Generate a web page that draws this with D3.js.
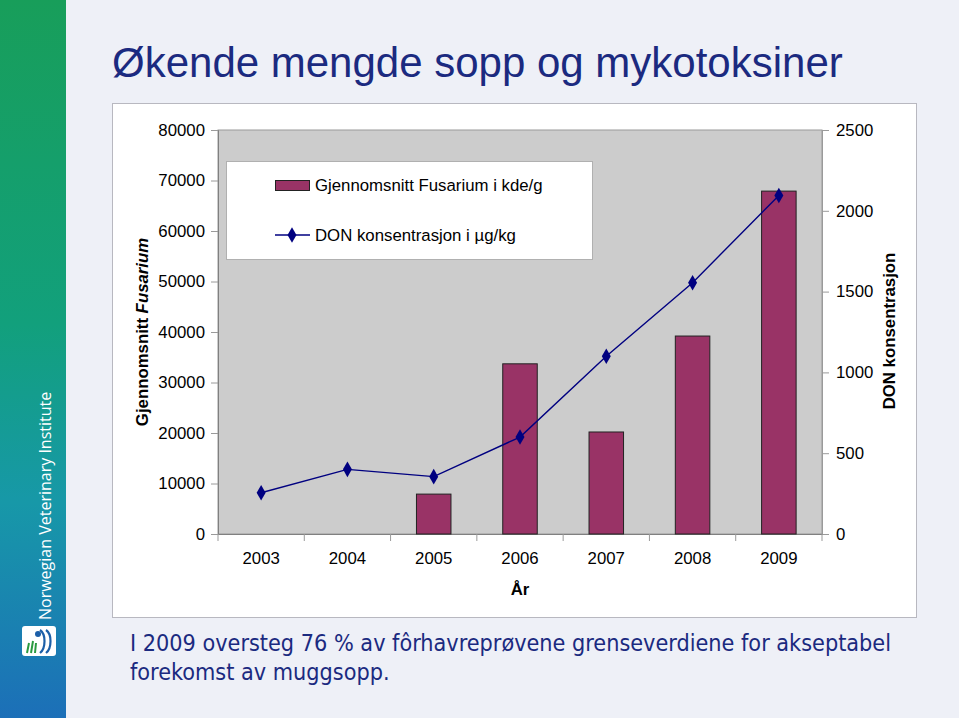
<!DOCTYPE html>
<html>
<head>
<meta charset="utf-8">
<script src="https://cdn.jsdelivr.net/npm/d3@7"></script>
<style>
  body { margin: 0; background: #eef0f7; }
  svg { display: block; }
</style>
</head>
<body>
<svg id="chart" width="959" height="718"></svg>
<script>
// Data
const years = ["2003", "2004", "2005", "2006", "2007", "2008", "2009"];
const fusarium = [0, 0, 7900, 33700, 20200, 39200, 67900];   // kde/g
const don = [255, 400, 355, 600, 1100, 1555, 2095];          // µg/kg
const leftTicks = [0, 10000, 20000, 30000, 40000, 50000, 60000, 70000, 80000];
const rightTicks = [0, 500, 1000, 1500, 2000, 2500];

const svg = d3.select("#chart");
const W = 959, H = 718;

// page background + sidebar
svg.append("rect").attr("width", W).attr("height", H).attr("fill", "#eef0f7");
const defs = svg.append("defs");
const grad = defs.append("linearGradient").attr("id", "side").attr("x1", 0).attr("y1", 0).attr("x2", 0).attr("y2", 1);
grad.append("stop").attr("offset", "0%").attr("stop-color", "#189e5a");
grad.append("stop").attr("offset", "45%").attr("stop-color", "#12a07c");
grad.append("stop").attr("offset", "70%").attr("stop-color", "#1798a8");
grad.append("stop").attr("offset", "100%").attr("stop-color", "#1c6fb8");
svg.append("rect").attr("x", 0).attr("y", 0).attr("width", 66).attr("height", H).attr("fill", "url(#side)");

svg.append("text")
  .attr("transform", "translate(51,620) rotate(-90)")
  .attr("fill", "#ffffff")
  .attr("font-family", "'Open Sans', sans-serif")
  .attr("font-size", 16)
  .text("Norwegian Veterinary Institute");

// logo
const logo = svg.append("g").attr("transform", "translate(22,626)");
logo.append("rect").attr("width", 34).attr("height", 30).attr("rx", 3).attr("fill", "#ffffff");
logo.append("path").attr("d", "M18,4 C24,8 24,22 18,27 M24,4 C30,8 30,22 24,27").attr("stroke", "#1c5fa8").attr("stroke-width", 2.2).attr("fill", "none");
logo.append("circle").attr("cx", 16).attr("cy", 8).attr("r", 3).attr("fill", "#1c5fa8");
logo.append("path").attr("d", "M5,27 L7,17 M9,27 L11,15 M13,27 L14,17").attr("stroke", "#2a9a40").attr("stroke-width", 2).attr("fill", "none");

// title
svg.append("text")
  .attr("x", 112).attr("y", 77)
  .attr("fill", "#1b2a80")
  .attr("font-family", "'Liberation Sans', Arial, sans-serif")
  .attr("font-size", 42)
  .text("Økende mengde sopp og mykotoksiner");

// chart box
svg.append("rect").attr("x", 112.5).attr("y", 103.5).attr("width", 804).attr("height", 514)
  .attr("fill", "#ffffff").attr("stroke", "#b8b8c0");

const plot = { left: 218, top: 130, right: 822, bottom: 534 };

const x = d3.scaleBand().domain(years).range([plot.left, plot.right]).paddingInner(0.6).paddingOuter(0.3);
const xTicks = d3.scaleBand().domain(years).range([plot.left, plot.right]);
const yL = d3.scaleLinear().domain([0, 80000]).range([plot.bottom, plot.top]);
const yR = d3.scaleLinear().domain([0, 2500]).range([plot.bottom, plot.top]);

svg.append("rect").attr("x", plot.left).attr("y", plot.top)
  .attr("width", plot.right - plot.left).attr("height", plot.bottom - plot.top)
  .attr("fill", "#cccccc").attr("stroke", "#9a9a9a").attr("stroke-width", 1);

const font = "'Liberation Sans', Arial, sans-serif";
const fs = 16.8;

// left axis
const gL = svg.append("g").attr("transform", `translate(${plot.left},0)`)
  .call(d3.axisLeft(yL).tickValues(leftTicks).tickSize(7).tickPadding(6).tickFormat(d3.format("d")));
// right axis
const gR = svg.append("g").attr("transform", `translate(${plot.right},0)`)
  .call(d3.axisRight(yR).tickValues(rightTicks).tickSize(7).tickPadding(7).tickFormat(d3.format("d")));
// bottom axis
const gB = svg.append("g").attr("transform", `translate(0,${plot.bottom})`)
  .call(d3.axisBottom(xTicks).tickSize(0).tickPadding(18));
svg.append("g").selectAll("line")
  .data(years.slice(1).concat(["end"]))
  .join("line")
  .attr("x1", (d, i) => plot.left + xTicks.step() * (i + 1))
  .attr("x2", (d, i) => plot.left + xTicks.step() * (i + 1))
  .attr("y1", plot.bottom).attr("y2", plot.bottom + 7)
  .attr("stroke", "#9a9a9a");
svg.append("line").attr("x1", plot.left).attr("x2", plot.left).attr("y1", plot.bottom).attr("y2", plot.bottom + 7).attr("stroke", "#9a9a9a");

[gL, gR, gB].forEach(g => {
  g.select(".domain").attr("stroke", "#808080");
  g.selectAll(".tick line").attr("stroke", "#9a9a9a");
  g.selectAll("text").attr("font-family", font).attr("font-size", fs).attr("fill", "#000");
});
gR.select(".domain").attr("stroke", "#9a9a9a");

// bars
svg.append("g").selectAll("rect")
  .data(years.map((y, i) => ({ year: y, v: fusarium[i] })).filter(d => d.v > 0))
  .join("rect")
  .attr("x", d => x(d.year))
  .attr("width", x.bandwidth())
  .attr("y", d => yL(d.v))
  .attr("height", d => yL(0) - yL(d.v))
  .attr("fill", "#993366")
  .attr("stroke", "#222")
  .attr("stroke-width", 1);

// DON line
const line = d3.line().x((d, i) => xTicks(years[i]) + xTicks.bandwidth() / 2).y(d => yR(d));
svg.append("path").datum(don).attr("d", line)
  .attr("fill", "none").attr("stroke", "#000080").attr("stroke-width", 1.4);
const diamond = d3.symbol().type(d3.symbolDiamond).size(70);
svg.append("g").selectAll("path")
  .data(don)
  .join("path")
  .attr("transform", (d, i) => `translate(${xTicks(years[i]) + xTicks.bandwidth() / 2},${yR(d)})`)
  .attr("d", diamond)
  .attr("fill", "#000080");

// legend
const lg = svg.append("g");
lg.append("rect").attr("x", 226.5).attr("y", 161.5).attr("width", 366).attr("height", 98)
  .attr("fill", "#ffffff").attr("stroke", "#b0b0b0");
lg.append("rect").attr("x", 275.5).attr("y", 180.5).attr("width", 34).attr("height", 10)
  .attr("fill", "#993366").attr("stroke", "#222");
lg.append("line").attr("x1", 275).attr("x2", 310).attr("y1", 235).attr("y2", 235)
  .attr("stroke", "#000080").attr("stroke-width", 1.4);
lg.append("path").attr("transform", "translate(292,235)").attr("d", diamond).attr("fill", "#000080");
lg.append("text").attr("x", 315).attr("y", 191).attr("font-family", font).attr("font-size", fs)
  .text("Gjennomsnitt Fusarium i kde/g");
lg.append("text").attr("x", 315).attr("y", 241).attr("font-family", font).attr("font-size", fs)
  .text("DON konsentrasjon i µg/kg");

// axis titles
const yt = svg.append("text")
  .attr("transform", "translate(148,332) rotate(-90)")
  .attr("text-anchor", "middle")
  .attr("font-family", font).attr("font-size", fs).attr("font-weight", "bold");
yt.append("tspan").text("Gjennomsnitt ");
yt.append("tspan").attr("font-style", "italic").text("Fusarium");

svg.append("text")
  .attr("transform", "translate(895,331) rotate(-90)")
  .attr("text-anchor", "middle")
  .attr("font-family", font).attr("font-size", fs).attr("font-weight", "bold")
  .text("DON konsentrasjon");

svg.append("text")
  .attr("x", 520).attr("y", 595)
  .attr("text-anchor", "middle")
  .attr("font-family", font).attr("font-size", fs).attr("font-weight", "bold")
  .text("År");

// caption
const cap = svg.append("text")
  .attr("fill", "#1b2a80")
  .attr("font-family", "'DejaVu Sans Condensed', 'DejaVu Sans', sans-serif")
  .attr("font-size", 23.2);
cap.append("tspan").attr("x", 130).attr("y", 651).text("I 2009 oversteg 76 % av fôrhavreprøvene grenseverdiene for akseptabel");
cap.append("tspan").attr("x", 130).attr("y", 680).text("forekomst av muggsopp.");
</script>
</body>
</html>
